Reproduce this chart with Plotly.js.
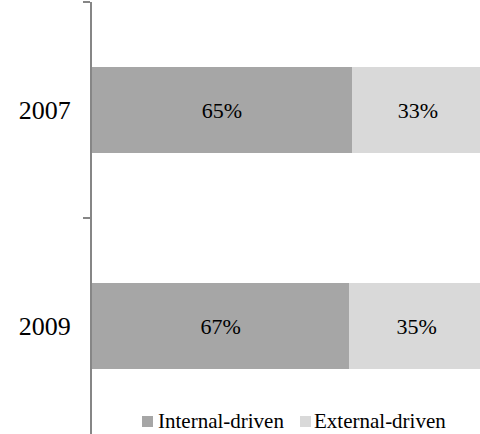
<!DOCTYPE html>
<html>
<head>
<meta charset="utf-8">
<script src="https://cdn.plot.ly/plotly-3.0.1.min.js"></script>
<style>html,body{margin:0;padding:0;background:#fff;}#chart{width:480px;height:434px;}</style>
</head>
<body>
<div id="chart"></div>
<script>
var years = ['2007', '2009'];
var internalDriven = [65, 67];
var externalDriven = [33, 35];
var seriesNames = ['Internal-driven', 'External-driven'];
var seriesColors = ['#a6a6a6', '#d9d9d9'];

var font = 'Liberation Serif, Times New Roman, serif';
var W = 480, H = 434, ML = 92, MT = 2, MB = 0, MR = 0;
var PW = W - ML - MR, PH = H - MT - MB;
function px2x(p) { return (p - ML) / PW; }
function px2y(p) { return (H - MB - p) / PH; }

function pct(arr) { return arr.map(function (v) { return v + '%'; }); }

var traces = [internalDriven, externalDriven].map(function (vals, i) {
  return {
    type: 'bar',
    orientation: 'h',
    name: seriesNames[i],
    y: years,
    x: vals,
    text: pct(vals),
    textposition: 'inside',
    insidetextanchor: 'middle',
    constraintext: 'none',
    textangle: 0,
    textfont: {family: font, size: 22, color: '#000'},
    marker: {color: seriesColors[i], line: {width: 0}},
    hoverinfo: 'none',
    showlegend: false
  };
});

// custom legend (swatch + label), laid out in pixels
var legendSwatchX = [142, 300];
var legendTextX = [156, 312];
var shapes = [], annotations = [];
seriesNames.forEach(function (n, i) {
  shapes.push({
    type: 'rect', xref: 'paper', yref: 'paper',
    x0: px2x(legendSwatchX[i]), x1: px2x(legendSwatchX[i] + 11),
    y0: px2y(427), y1: px2y(416),
    fillcolor: seriesColors[i], line: {width: 0}
  });
  annotations.push({
    xref: 'paper', yref: 'paper',
    x: px2x(legendTextX[i]), y: px2y(421),
    xanchor: 'left', yanchor: 'middle',
    text: n, showarrow: false,
    font: {family: font, size: 21, color: '#000'}
  });
});

var layout = {
  width: W,
  height: H,
  margin: {l: ML, r: MR, t: MT, b: MB, pad: 0},
  paper_bgcolor: '#fff',
  plot_bgcolor: '#fff',
  barmode: 'stack',
  barnorm: 'percent',
  bargap: 0.6,
  showlegend: false,
  font: {family: font, color: '#000'},
  xaxis: {range: [0, 98.98], visible: false, fixedrange: true},
  yaxis: {
    type: 'category',
    range: [1.5, -0.5],
    showline: true,
    linecolor: '#868686',
    linewidth: 2,
    ticks: 'outside',
    tickson: 'boundaries',
    ticklen: 7,
    tickwidth: 2,
    tickcolor: '#868686',
    showgrid: false,
    zeroline: false,
    tickfont: {family: font, size: 26, color: '#000'},
    ticklabelstandoff: 14,
    fixedrange: true
  },
  shapes: shapes,
  annotations: annotations
};

Plotly.newPlot('chart', traces, layout, {displayModeBar: false, staticPlot: true});
</script>
</body>
</html>
